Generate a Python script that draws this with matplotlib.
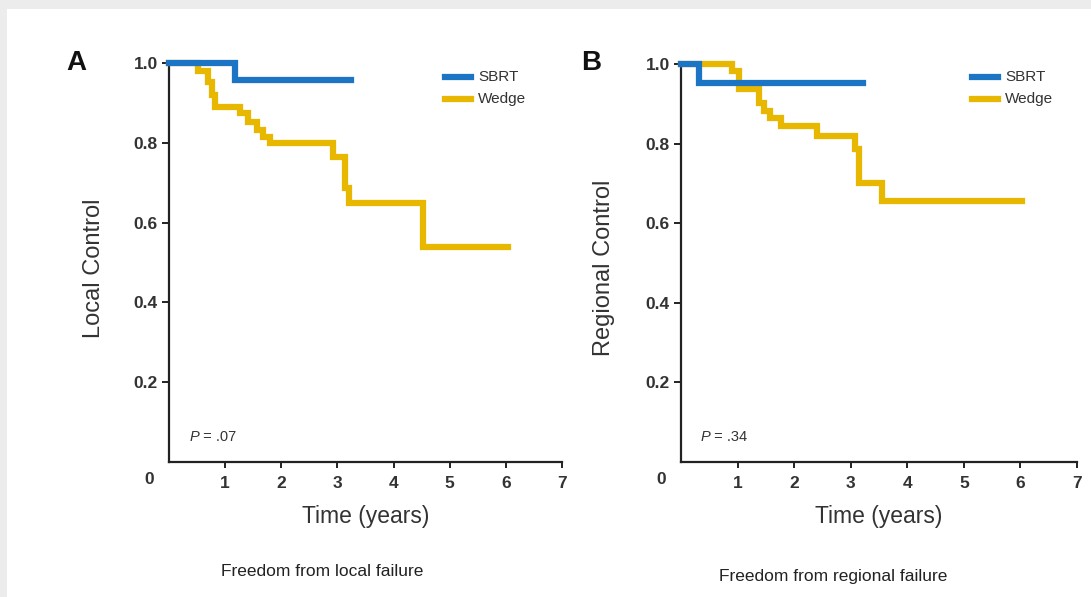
import matplotlib
matplotlib.use("Agg")
import matplotlib.pyplot as plt
from matplotlib.patches import Rectangle

# ---- data ----
panel_letters = ["A", "B"]
y_labels = ["Local Control", "Regional Control"]
captions = ["Freedom from local failure", "Freedom from regional failure"]
p_values = ["= .07", "= .34"]
series_names = ["SBRT", "Wedge"]
x_ticks = [1, 2, 3, 4, 5, 6, 7]
y_ticks = [0.2, 0.4, 0.6, 0.8, 1.0]

sbrt_a_t = [0, 1.18, 3.24]
sbrt_a_s = [1.0, 0.958, 0.958]
wedge_a_t = [0, 0.52, 0.70, 0.76, 0.82, 1.27, 1.41, 1.56, 1.68, 1.80, 2.93, 3.14, 3.20, 4.52, 6.04]
wedge_a_s = [1.0, 0.979, 0.953, 0.92, 0.89, 0.874, 0.853, 0.833, 0.815, 0.80, 0.765, 0.686, 0.65, 0.54, 0.54]

sbrt_b_t = [0, 0.31, 3.22]
sbrt_b_s = [1.0, 0.952, 0.952]
wedge_b_t = [0, 0.90, 1.02, 1.37, 1.46, 1.58, 1.76, 2.40, 3.08, 3.14, 3.55, 6.02]
wedge_b_s = [1.0, 0.982, 0.937, 0.903, 0.882, 0.865, 0.843, 0.82, 0.786, 0.702, 0.655, 0.655]

BLUE = "#1c74c4"
GOLD = "#e8b800"
TXT = "#333333"
SANS = ["Liberation Sans", "DejaVu Sans"]

W, H = 1091, 597
fig = plt.figure(figsize=(W / 100, H / 100), dpi=100)
fig.patch.set_facecolor("#ececec")
fig.add_artist(Rectangle((7 / W, 0), 1, (H - 9) / H, transform=fig.transFigure,
                         facecolor="white", edgecolor="none", zorder=0))

def px(x, y):
    return x / W, 1 - y / H

panels = [
    dict(rect=(169, 63, 562, 462), sbrt=(sbrt_a_t, sbrt_a_s), wedge=(wedge_a_t, wedge_a_s),
         letter_xy=(66, 63), ylab_x=94, cap_xy=(322, 572), leg_x=445, p_xy=(190, 437), zero_xy=(149, 480)),
    dict(rect=(681, 64, 1077, 462), sbrt=(sbrt_b_t, sbrt_b_s), wedge=(wedge_b_t, wedge_b_s),
         letter_xy=(581, 63), ylab_x=604, cap_xy=(833, 577), leg_x=972, p_xy=(701, 437), zero_xy=(661, 480)),
]

for i, p in enumerate(panels):
    l, t, r, b = p["rect"]
    ax = fig.add_axes([l / W, 1 - b / H, (r - l) / W, (b - t) / H])
    ax.set_facecolor("none")
    ax.set_xlim(0, 7)
    ax.set_ylim(0, 1.0)
    for s in ["top", "right"]:
        ax.spines[s].set_visible(False)
    for s in ["left", "bottom"]:
        ax.spines[s].set_linewidth(1.6)
        ax.spines[s].set_color("#222222")
    ax.set_xticks(x_ticks)
    ax.set_xticklabels([str(v) for v in x_ticks], fontweight="bold", family=SANS, fontsize=12.5, color=TXT)
    ax.set_yticks(y_ticks)
    ax.set_yticklabels([f"{v:.1f}" for v in y_ticks], fontweight="bold", family=SANS, fontsize=12.5, color=TXT)
    ax.tick_params(axis="x", length=4, width=1.4, pad=6, color="#222222")
    ax.tick_params(axis="y", length=5, width=1.4, pad=3, color="#222222")

    wt, ws = p["wedge"]
    st, ss = p["sbrt"]
    ax.step(wt, ws, where="post", color=GOLD, lw=4.5, clip_on=False, zorder=3, solid_joinstyle="miter")
    ax.step(st, ss, where="post", color=BLUE, lw=4.5, clip_on=False, zorder=4, solid_joinstyle="miter")

    ax.set_xlabel("Time (years)", family=SANS, fontsize=16.5, color=TXT, labelpad=10)

    # y label
    fig.text(*px(p["ylab_x"], 268), y_labels[i], rotation=90, ha="center", va="center",
             family=SANS, fontsize=17, color=TXT)
    # panel letter
    fig.text(*px(*p["letter_xy"]), panel_letters[i], ha="left", va="center",
             fontweight="bold", family=SANS, fontsize=20, color="#111111")
    # origin 0
    fig.text(*px(*p["zero_xy"]), "0", ha="center", va="center", fontweight="bold",
             family=SANS, fontsize=12.5, color=TXT)
    # p value
    fig.text(*px(*p["p_xy"]), "P", ha="left", va="center", style="italic",
             family=SANS, fontsize=10.5, color=TXT)
    fig.text(*px(p["p_xy"][0] + 9, p["p_xy"][1]), " " + p_values[i], ha="left", va="center",
             family=SANS, fontsize=10.5, color=TXT)
    # caption
    fig.text(*px(*p["cap_xy"]), captions[i], ha="center", va="center",
             family=SANS, fontsize=12.5, color="#222222")
    # legend
    lx = p["leg_x"]
    for j, (name, col) in enumerate(zip(series_names, [BLUE, GOLD])):
        yy = 77 + j * 22
        fig.add_artist(plt.Line2D([lx / W, (lx + 26) / W], [1 - yy / H, 1 - yy / H],
                                  transform=fig.transFigure, color=col, lw=4.5))
        fig.text(*px(lx + 33, yy), name, ha="left", va="center", family=SANS,
                 fontsize=11, color=TXT)

fig.savefig("out.png", dpi=100, facecolor=fig.get_facecolor())
